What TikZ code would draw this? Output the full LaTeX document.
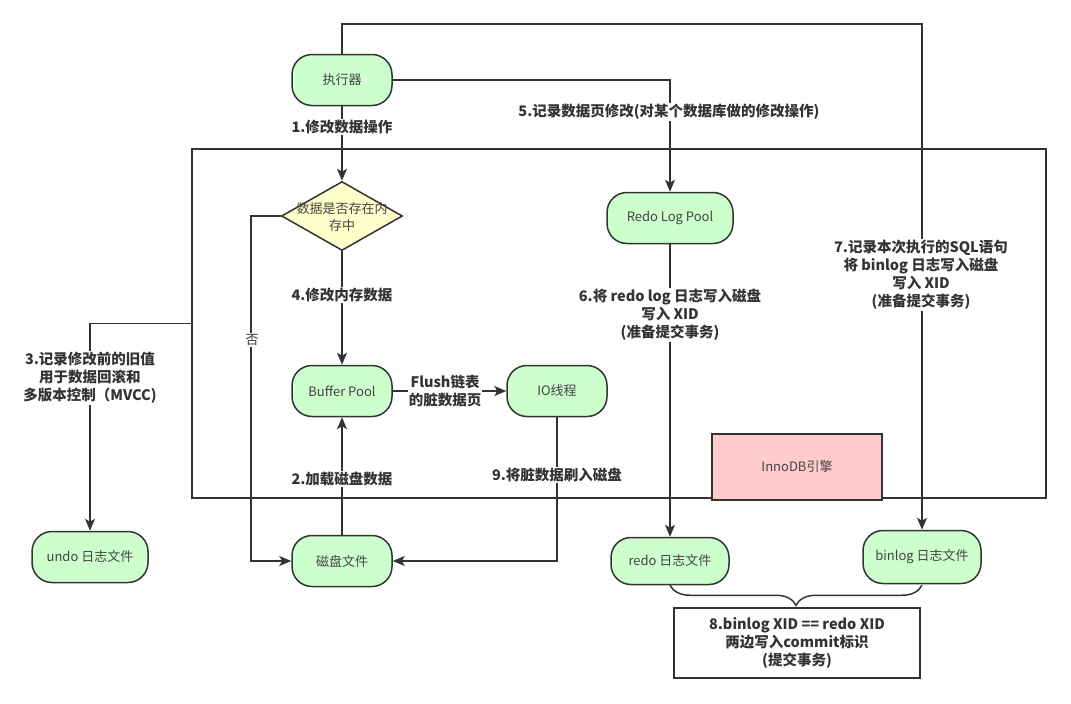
\documentclass[tikz,border=0pt]{standalone}
\usepackage{fontspec}
\setmainfont{Noto Sans CJK SC}
\usetikzlibrary{shapes.geometric,arrows.meta,decorations.pathreplacing}
\definecolor{ln}{HTML}{333333}
\definecolor{gfill}{HTML}{CCFFCC}
\definecolor{yfill}{HTML}{FFFFCC}
\definecolor{pfill}{HTML}{FFCCCC}
\definecolor{txt}{HTML}{444444}
\definecolor{lbltxt}{HTML}{333333}
\begin{document}
\begin{tikzpicture}[x=1pt,y=-1pt,
  box/.style={draw=ln, line width=1.5pt, fill=gfill, rounded corners=20pt, minimum width=100pt, minimum height=51pt, inner sep=0pt, font=\fontsize{13}{15}\selectfont, text=txt},
  lbl/.style={fill=white, inner sep=1pt, font=\bfseries\fontsize{14.5}{18}\selectfont, text=lbltxt, align=center},
  arr/.style={draw=ln, line width=1.5pt, -{Stealth[length=12pt,width=10pt,inset=3pt]}},
  con/.style={draw=ln, line width=1.5pt}]
\useasboundingbox (0,0) rectangle (1071,704);

% container
\node[draw=ln, line width=1.5pt, minimum width=854pt, minimum height=349pt, inner sep=0pt] (engine) at (619,323.5) {};

% nodes
\node[box] (exec) at (342,80) {执行器};
\node[diamond, draw=ln, line width=1.5pt, fill=yfill, minimum width=121pt, minimum height=69pt, inner sep=0pt] (dia) at (342,216) {};
\node[font=\fontsize{13}{17}\selectfont, text=txt, align=center] (diatext) at (342,217) {数据是否存在内\\存中};
\node[box] (buf) at (342,391) {Buffer Pool};
\node[box] (io) at (557,391) {IO线程};
\node[box] (disk) at (342,561) {磁盘文件};
\node[box, minimum width=116pt] (undo) at (90,557) {undo 日志文件};
\node[box, minimum width=126pt] (rpool) at (670,218) {Redo Log Pool};
\node[box, minimum width=118pt, minimum height=47pt] (redo) at (670,561) {redo 日志文件};
\node[box, minimum width=118pt, minimum height=53pt] (binlog) at (922,557) {binlog 日志文件};
\node[draw=ln, line width=1.5pt, fill=pfill, minimum width=170pt, minimum height=66pt, inner sep=0pt, font=\fontsize{13}{15}\selectfont, text=txt] (inno) at (797,467) {InnoDB引擎};
\node[draw=ln, line width=1.5pt, fill=white, minimum width=246pt, minimum height=70pt, inner sep=0pt, font=\bfseries\fontsize{14.5}{18}\selectfont, text=lbltxt, align=center] (commit) at (797,643) {8.binlog XID == redo XID\\两边写入commit标识\\(提交事务)};

% connectors
\draw[arr] (exec.north) -- ++(0,-30) coordinate (tr) -| (binlog.north);
\draw[arr] (exec.east) -| (rpool.north);
\draw[arr] (exec.south) -- (dia.north);
\draw[arr] (dia.south) -- (buf.north);
\draw[arr] (dia.west) -- ++(-30,0) coordinate (nocorner) |- (disk.west);
\draw[arr] (disk.north) -- (buf.south);
\draw[arr] (buf.east) -- (io.west);
\draw[arr] (io.south) |- (disk.east);
\draw[arr] (engine.west) -| (undo.north);
\draw[arr] (rpool.south) -- (redo.north);
\draw[con, decorate, decoration={brace, mirror, amplitude=20pt}] (redo.south) -- (redo.south -| binlog.south);

% labels
\node[lbl] (l1) at (342,127) {1.修改数据操作};
\node[lbl] (l5) at (669,112) {5.记录数据页修改(对某个数据库做的修改操作)};
\node[lbl] (l4) at (342,295) {4.修改内存数据};
\node[lbl] (l2) at (342,479) {2.加载磁盘数据};
\node[lbl] (l9) at (557,475) {9.将脏数据刷入磁盘};
\node[lbl] (lf) at (445,391) {Flush链表\\的脏数据页};
\node[lbl, font=\fontsize{13}{15}\selectfont] (lno) at (252,340) {否};
\node[lbl] (l3) at (90,378) {3.记录修改前的旧值\\用于数据回滚和\\多版本控制（MVCC)};
\node[lbl] (l6) at (670,315) {6.将 redo log 日志写入磁盘\\写入 XID\\(准备提交事务)};
\node[lbl] (l7) at (921,275) {7.记录本次执行的SQL语句\\将 binlog 日志写入磁盘\\写入 XID\\(准备提交事务)};
\end{tikzpicture}
\end{document}
